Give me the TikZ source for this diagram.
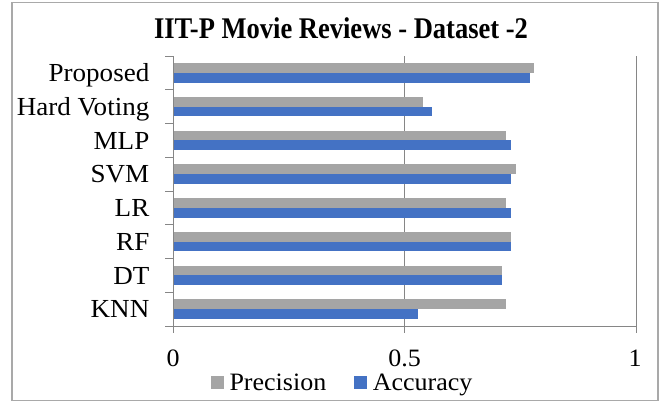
\documentclass[tikz,border=0pt]{standalone}
\usepackage{fontspec}
\usepackage{graphicx}
\setmainfont{Liberation Serif}[FakeStretch=1.04]
\definecolor{precgray}{HTML}{A5A5A5}
\definecolor{accblue}{HTML}{4472C4}
\definecolor{axisgray}{HTML}{868686}
\definecolor{framegray}{HTML}{A9A9A9}
\tikzset{
  axisline/.style={draw=axisgray, line width=0.9pt},
  precbar/.style={fill=precgray, draw=none},
  accbar/.style={fill=accblue, draw=none},
  catlabel/.style={anchor=base east, inner sep=0pt, font=\fontsize{26}{31}\selectfont},
  ticklabel/.style={anchor=base, inner sep=0pt, font=\fontsize{25}{30}\selectfont},
  legtext/.style={anchor=base west, inner sep=0pt, font=\fontsize{25}{30}\selectfont},
}
% value v is drawn at x = 173 + 463 v
\newcommand{\xv}[1]{173+463*#1}
\begin{document}
\begin{tikzpicture}[x=1pt,y=-1pt]
  \useasboundingbox (0,0) rectangle (659,402);
  % chart frame
  \draw[draw=framegray, line width=1.6pt] (11.8,2.4) rectangle (658,400.6);
  % title
  \node[anchor=base, inner sep=0pt] (title) at (341,38.3)
    {\scalebox{0.85}[1]{\fontsize{30}{36}\selectfont\bfseries IIT-P Movie Reviews - Dataset -2}};
  % gridlines
  \draw[axisline] (\xv{0.5},56) -- (\xv{0.5},333);
  \draw[axisline] (\xv{1},56) -- (\xv{1},333);
  % bars: {label/precision/accuracy}
  \foreach \lab/\p/\a [count=\k from 0] in {
      Proposed/0.78/0.77,
      Hard Voting/0.54/0.56,
      MLP/0.72/0.73,
      SVM/0.74/0.73,
      LR/0.72/0.73,
      RF/0.73/0.73,
      DT/0.71/0.71,
      KNN/0.72/0.53}{
    \pgfmathsetmacro{\c}{72.9+33.75*\k}
    \path[precbar] (173,\c-9.7) rectangle (\xv{\p},\c) node[coordinate] (p\k) {};
    \path[accbar] (173,\c) rectangle (\xv{\a},\c+9.7) node[coordinate] (a\k) {};
    \node[catlabel] (cat\k) at (149.5,\c+8.8) {\lab};
  }
  % category axis with tick marks
  \draw[axisline] (173,56) -- (173,333);
  \foreach \k in {0,...,8}{
    \draw[axisline] (165,56+33.75*\k) -- (173,56+33.75*\k);
  }
  % value axis with tick marks
  \draw[axisline] (165,326) -- (\xv{1},326);
  \draw[axisline] (\xv{0.5},326) -- (\xv{0.5},333);
  \draw[axisline] (\xv{1},326) -- (\xv{1},333);
  % value labels
  \node[ticklabel] (t0) at (\xv{0},366) {0};
  \node[ticklabel] (t5) at (\xv{0.5},366) {0.5};
  \node[ticklabel] (t1) at (\xv{1}-1,366) {1};
  % legend
  \path[precbar] (210.7,376.3) rectangle (223.5,389.3) node[coordinate] (legp) {};
  \node[legtext] (legptext) at (229.3,390) {Precision};
  \path[accbar] (353.5,376.3) rectangle (366.5,389.3) node[coordinate] (lega) {};
  \node[legtext] (legatext) at (372.6,390) {Accuracy};
\end{tikzpicture}
\end{document}
